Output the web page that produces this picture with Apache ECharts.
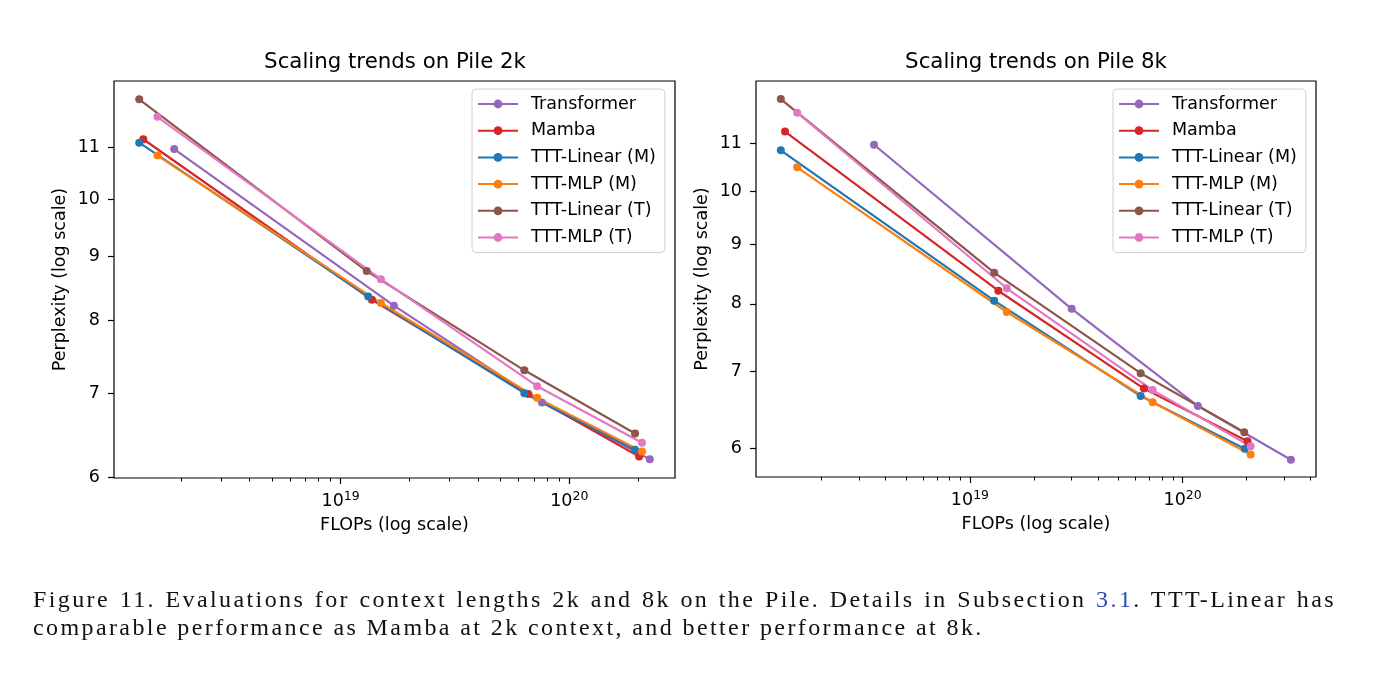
<!DOCTYPE html>
<html lang="en">
<head>
  <meta charset="UTF-8">
  <title>Scaling trends on Pile</title>
  <style>
    html, body { margin: 0; padding: 0; background: #fff; }
    #chart { width: 1376px; height: 688px; }
    .caption {
      position: absolute;
      left: 33px;
      width: 1303px;
      font-family: "Liberation Serif", "DejaVu Serif", serif;
      font-size: 24px;
      line-height: 24px;
      letter-spacing: 2.4px;
      color: #111;
      white-space: nowrap;
    }
    .line1 { top: 587px; text-align: justify; text-align-last: justify; }
    .line2 { top: 615px; }
    .ref { color: #2a4cb0; }
  </style>
</head>
<body>
<div id="chart"></div>
<div class="caption line1">Figure 11. Evaluations for context lengths 2k and 8k on the Pile. Details in Subsection <span class="ref">3.1</span>. TTT-Linear has</div>
<div class="caption line2">comparable performance as Mamba at 2k context, and better performance at 8k.</div>

<script src="https://cdn.jsdelivr.net/npm/echarts@6/dist/echarts.min.js"></script>
<script>
  // series names and colours (matplotlib tab palette)
  const names = ['Transformer', 'Mamba', 'TTT-Linear (M)', 'TTT-MLP (M)', 'TTT-Linear (T)', 'TTT-MLP (T)'];
  const colors = ['#9467bd', '#d62728', '#1f77b4', '#ff7f0e', '#8c564b', '#e377c2'];

  // Pile 2k : FLOPs and perplexity per model
  const transformer2kFlops = [1.87e18, 1.71e19, 7.59e19, 2.25e20];
  const transformer2kPpl   = [10.96, 8.22, 6.88, 6.20];
  const mamba2kFlops       = [1.37e18, 1.37e19, 6.62e19, 2.02e20];
  const mamba2kPpl         = [11.16, 8.31, 6.99, 6.23];
  const tttLinM2kFlops     = [1.315e18, 1.32e19, 6.36e19, 1.94e20];
  const tttLinM2kPpl       = [11.09, 8.36, 7.00, 6.31];
  const tttMlpM2kFlops     = [1.58e18, 1.50e19, 7.24e19, 2.08e20];
  const tttMlpM2kPpl       = [10.83, 8.26, 6.94, 6.29];
  const tttLinT2kFlops     = [1.315e18, 1.30e19, 6.36e19, 1.94e20];
  const tttLinT2kPpl       = [12.01, 8.76, 7.30, 6.50];
  const tttMlpT2kFlops     = [1.58e18, 1.50e19, 7.24e19, 2.08e20];
  const tttMlpT2kPpl       = [11.63, 8.63, 7.09, 6.39];

  // Pile 8k
  const transformer8kFlops = [3.54e18, 3.01e19, 1.18e20, 3.23e20];
  const transformer8kPpl   = [10.97, 7.92, 6.53, 5.87];
  const mamba8kFlops       = [1.35e18, 1.36e19, 6.58e19, 2.02e20];
  const mamba8kPpl         = [11.26, 8.21, 6.76, 6.09];
  const tttLinM8kFlops     = [1.29e18, 1.30e19, 6.35e19, 1.96e20];
  const tttLinM8kPpl       = [10.85, 8.05, 6.66, 6.00];
  const tttMlpM8kFlops     = [1.54e18, 1.49e19, 7.23e19, 2.09e20];
  const tttMlpM8kPpl       = [10.49, 7.87, 6.58, 5.93];
  const tttLinT8kFlops     = [1.29e18, 1.30e19, 6.35e19, 1.95e20];
  const tttLinT8kPpl       = [12.01, 8.51, 6.97, 6.20];
  const tttMlpT8kFlops     = [1.54e18, 1.49e19, 7.23e19, 2.09e20];
  const tttMlpT8kPpl       = [11.69, 8.25, 6.74, 6.03];

  // axis limits and tick labels
  const xRange2k = [1.02e18, 2.90e20];
  const yRange2k = [5.99, 12.42];
  const xRange8k = [0.986e18, 4.24e20];
  const yRange8k = [5.672, 12.45];
  const xMajorTicks = [1e19, 1e20];
  const yTicks = [6, 7, 8, 9, 10, 11];

  const lg = Math.log10;

  const flops2k = [transformer2kFlops, mamba2kFlops, tttLinM2kFlops, tttMlpM2kFlops, tttLinT2kFlops, tttMlpT2kFlops];
  const ppl2k = [transformer2kPpl, mamba2kPpl, tttLinM2kPpl, tttMlpM2kPpl, tttLinT2kPpl, tttMlpT2kPpl];
  const flops8k = [transformer8kFlops, mamba8kFlops, tttLinM8kFlops, tttMlpM8kFlops, tttLinT8kFlops, tttMlpT8kFlops];
  const ppl8k = [transformer8kPpl, mamba8kPpl, tttLinM8kPpl, tttMlpM8kPpl, tttLinT8kPpl, tttMlpT8kPpl];

  // minor log ticks 2..9 x 10^n inside the range
  function minorTicks(range){
    const out = [];
    for (let e = 17; e <= 21; e++){
      for (let k = 2; k <= 9; k++){
        const v = k * Math.pow(10, e);
        if (v > range[0] && v < range[1]) out.push(lg(v));
      }
    }
    return out;
  }

  const font = 'DejaVu Sans';
  const fs = 17.5;
  const grids = [
    {left: 114, top: 81, width: 561, height: 397},
    {left: 756, top: 81, width: 560, height: 396}
  ];

  function mainX(gridIndex, range){
    return {
      type: 'value', gridIndex: gridIndex, position: 'bottom',
      min: lg(range[0]), max: lg(range[1]),
      name: 'FLOPs (log scale)', nameLocation: 'middle', nameGap: 38,
      nameTextStyle: {fontFamily: font, fontSize: fs, color: '#000'},
      axisLine: {show: false},
      splitLine: {show: false},
      axisTick: {show: true, length: 6, inside: false, customValues: xMajorTicks.map(lg),
        lineStyle: {color: '#000', width: 1.2}},
      axisLabel: {
        customValues: xMajorTicks.map(lg), margin: 12,
        formatter: v => '{b|10}{s|' + Math.round(v) + '}',
        rich: {
          b: {fontFamily: font, fontSize: fs, color: '#000'},
          s: {fontFamily: font, fontSize: 12.5, color: '#000', padding: [0, 0, 9, 0]}
        }
      }
    };
  }
  function minorX(gridIndex, range){
    return {
      type: 'value', gridIndex: gridIndex, position: 'bottom',
      min: lg(range[0]), max: lg(range[1]),
      axisLine: {show: false}, splitLine: {show: false},
      axisLabel: {show: false},
      axisTick: {show: true, length: 3.5, customValues: minorTicks(range),
        lineStyle: {color: '#000', width: 1}}
    };
  }
  function yAx(gridIndex, range){
    return {
      type: 'value', gridIndex: gridIndex,
      min: lg(range[0]), max: lg(range[1]),
      name: 'Perplexity (log scale)', nameLocation: 'middle', nameGap: 45,
      nameTextStyle: {fontFamily: font, fontSize: fs, color: '#000'},
      axisLine: {show: false}, splitLine: {show: false},
      axisTick: {show: true, length: 6, customValues: yTicks.map(lg),
        lineStyle: {color: '#000', width: 1.2}},
      axisLabel: {customValues: yTicks.map(lg), margin: 14, fontFamily: font, fontSize: fs, color: '#000',
        formatter: v => String(Math.round(Math.pow(10, v)))}
    };
  }

  const series = [];
  [[flops2k, ppl2k], [flops8k, ppl8k]].forEach(([fl, pp], g) => {
    names.forEach((n, i) => {
      series.push({
        name: n, type: 'line', xAxisIndex: g * 2, yAxisIndex: g,
        data: fl[i].map((f, j) => [lg(f), lg(pp[i][j])]),
        symbol: 'circle', symbolSize: 8, showSymbol: true,
        color: colors[i],
        lineStyle: {width: 2.2, color: colors[i]},
        itemStyle: {color: colors[i]},
        animation: false
      });
    });
  });

  function legendAt(left){
    return {
      data: names, orient: 'vertical', left: left, top: 89,
      itemWidth: 40, itemHeight: 11, itemGap: 6.7,
      padding: [5, 9, 5, 5],
      backgroundColor: '#fff', borderColor: '#d0d0d0', borderWidth: 1, borderRadius: 4,
      textStyle: {fontFamily: font, fontSize: fs, color: '#000', lineHeight: 20, padding: [0, 0, 0, 8]},
      selectedMode: false
    };
  }

  const chart = echarts.init(document.getElementById('chart'));
  chart.setOption({
    animation: false,
    grid: grids.map(g => Object.assign({show: true, borderColor: '#000', borderWidth: 1.2, backgroundColor: 'transparent'}, g)),
    xAxis: [mainX(0, xRange2k), minorX(0, xRange2k), mainX(1, xRange8k), minorX(1, xRange8k)],
    yAxis: [yAx(0, yRange2k), yAx(1, yRange8k)],
    legend: [legendAt(472), legendAt(1113)],
    graphic: [
      {type: 'text', x: 395, y: 62, style: {text: 'Scaling trends on Pile 2k', font: '21.3px "DejaVu Sans"', fill: '#000', textAlign: 'center', textVerticalAlign: 'middle'}},
      {type: 'text', x: 1036, y: 62, style: {text: 'Scaling trends on Pile 8k', font: '21.3px "DejaVu Sans"', fill: '#000', textAlign: 'center', textVerticalAlign: 'middle'}}
    ],
    series: series
  });
</script>
</body>
</html>
